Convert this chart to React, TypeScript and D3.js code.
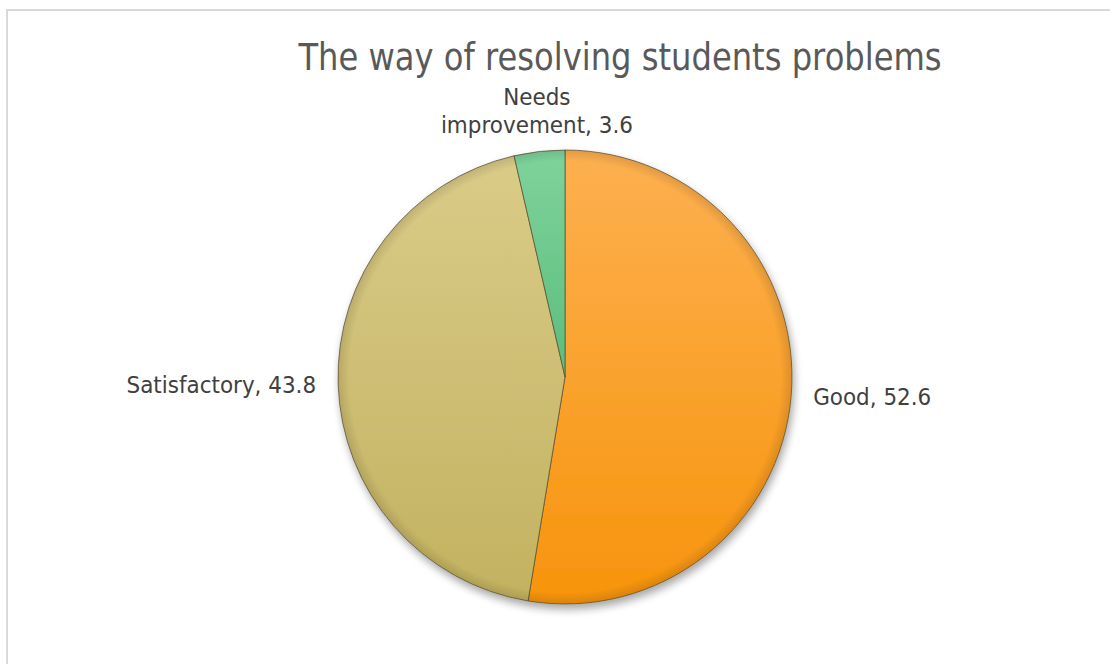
import React from "react";
import * as d3 from "d3";

const categories = ["Good", "Satisfactory", "Needs improvement"];
const values = [52.6, 43.8, 3.6];
// label lines as shown next to each slice
const labelLines = [["Good, 52.6"], ["Satisfactory, 43.8"], ["Needs", "improvement, 3.6"]];
const topColors = ["#fdb050", "#dacb88", "#7fd39c"];
const bottomColors = ["#f7940c", "#c2b260", "#5bbd7c"];

const width = 1110;
const height = 664;
const cx = 565;
const cy = 377;
const radius = 227;

// the original font is narrower than DejaVu, so squeeze it a little
const Squeezed = ({ x, y, sx, children, ...rest }: any) => (
  <g transform={`translate(${x},${y}) scale(${sx},1)`}>
    <text x={0} y={0} {...rest}>
      {children}
    </text>
  </g>
);

export default function App() {
  const data = categories.map((c, i) => ({ name: c, value: values[i], i }));
  const pie = d3.pie<any>().sort(null).value((d) => d.value);
  const arcs = pie(data);
  const arc = d3.arc<any>().innerRadius(0).outerRadius(radius);

  return (
    <svg
      width={width}
      height={height}
      style={{ position: "absolute", left: 0, top: 0, display: "block", background: "#fff" }}
      fontFamily="'DejaVu Sans', Verdana, sans-serif"
    >
      <defs>
        {arcs.map((a, i) => (
          <linearGradient key={i} id={`g${i}`} x1="0" y1="0" x2="0" y2="1">
            <stop offset="0" stopColor={topColors[i]} />
            <stop offset="1" stopColor={bottomColors[i]} />
          </linearGradient>
        ))}
        <filter id="shadow" x="-20%" y="-20%" width="140%" height="140%">
          <feGaussianBlur in="SourceAlpha" stdDeviation="4" />
          <feOffset dx="2" dy="5" result="b" />
          <feComponentTransfer>
            <feFuncA type="linear" slope="0.35" />
          </feComponentTransfer>
          <feMerge>
            <feMergeNode />
            <feMergeNode in="SourceGraphic" />
          </feMerge>
        </filter>
        <radialGradient id="bevel" cx="0.5" cy="0.5" r="0.5">
          <stop offset="0.95" stopColor="#000" stopOpacity="0" />
          <stop offset="1" stopColor="#000" stopOpacity="0.12" />
        </radialGradient>
      </defs>
      <rect x={7} y={10} width={width + 20} height={height + 20} fill="#fff" stroke="#d9d9d9" strokeWidth={2} />
      <Squeezed x={620} y={70} sx={0.87} textAnchor="middle" fontSize={37} fill="#595959">
        The way of resolving students problems
      </Squeezed>
      <g transform={`translate(${cx},${cy})`}>
        <g filter="url(#shadow)">
          {arcs.map((a, i) => (
            <path key={i} d={arc(a) || ""} fill={`url(#g${i})`} stroke="#5a4a30" strokeOpacity={0.7} strokeWidth={1} />
          ))}
        </g>
        <circle r={radius} fill="url(#bevel)" pointerEvents="none" />
        {arcs.map((a, i) => {
          const mid = (a.startAngle + a.endAngle) / 2;
          const R = radius + 22;
          const x = Math.sin(mid) * R;
          const y = -Math.cos(mid) * R;
          const s = Math.sin(mid);
          const anchor = Math.abs(s) < 0.3 ? "middle" : s > 0 ? "start" : "end";
          const lines = labelLines[i];
          const lh = 28;
          const y0 = Math.cos(mid) > 0.9 ? y - (lines.length - 1) * lh + 3 : y + 8;
          return (
            <g key={i}>
              {lines.map((l, j) => (
                <Squeezed key={j} x={x} y={y0 + j * lh} sx={0.935} textAnchor={anchor} fontSize={23} fill="#404040">
                  {l}
                </Squeezed>
              ))}
            </g>
          );
        })}
      </g>
    </svg>
  );
}
